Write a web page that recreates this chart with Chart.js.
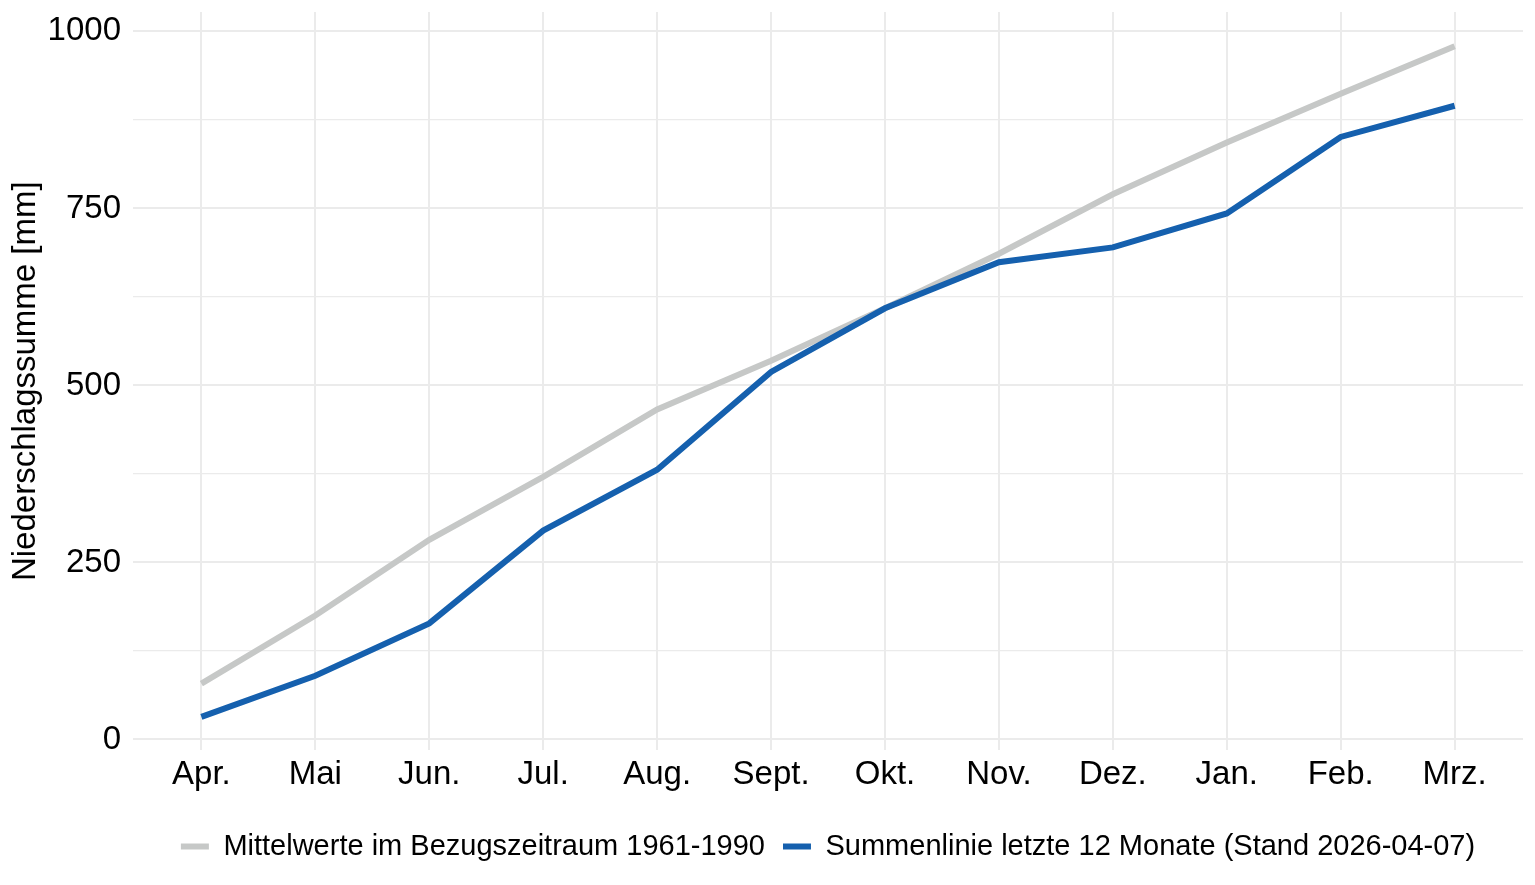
<!DOCTYPE html>
<html>
<head>
<meta charset="utf-8">
<script src="https://cdn.jsdelivr.net/npm/chart.js@4.4.1/dist/chart.umd.min.js"></script>
<style>
  html, body { margin: 0; padding: 0; background: #ffffff; }
  #wrap { width: 1535px; height: 885px; }
</style>
</head>
<body>
<div id="wrap"><canvas id="myChart"></canvas></div>
<script>
'use strict';

// chart data
let months = ['Apr.', 'Mai', 'Jun.', 'Jul.', 'Aug.', 'Sept.', 'Okt.', 'Nov.', 'Dez.', 'Jan.', 'Feb.', 'Mrz.'];
let meanValues = [79, 175, 282, 371, 466, 535, 609, 686, 770, 843, 912, 979];
let sumValues = [32, 90, 164, 295, 381, 519, 609, 674, 695, 743, 851, 895];
let yTicks = [0, 125, 250, 375, 500, 625, 750, 875, 1000];
let yLabels = [0, 250, 500, 750, 1000];

let meanLabel = 'Mittelwerte im Bezugszeitraum 1961-1990';
let sumLabel = 'Summenlinie letzte 12 Monate (Stand 2026-04-07)';

let ctx = document.getElementById('myChart');

// helper to pair the month index with the value
function toPoints(values) {
    let points = [];
    for (let i = 0; i < values.length; i++) {
        points.push({ x: i, y: values[i] });
    }
    return points;
}

let fontFamily = '"Liberation Sans", Arial, Helvetica, sans-serif';

let myChartObj = {
    type: 'line',
    data: {
        datasets: [{
            label: meanLabel,
            data: toPoints(meanValues),
            borderColor: '#c6c8c7',
            backgroundColor: '#c6c8c7',
            borderWidth: 6,
            pointRadius: 0,
            tension: 0,
            order: 1
        },
        {
            label: sumLabel,
            data: toPoints(sumValues),
            borderColor: '#1560ae',
            backgroundColor: '#1560ae',
            borderWidth: 6,
            pointRadius: 0,
            tension: 0,
            order: 0
        }]
    },
    options: {
        responsive: true,
        maintainAspectRatio: false,
        animation: false,
        layout: {
            padding: { left: 6, right: 12, top: 12, bottom: 14 }
        },
        plugins: {
            tooltip: { enabled: false },
            legend: {
                position: 'bottom',
                fullSize: false,
                labels: {
                    usePointStyle: true,
                    pointStyle: 'line',
                    pointStyleWidth: 28,
                    padding: 18,
                    color: '#000000',
                    font: { family: fontFamily, size: 29 },
                    sort: function (a, b) { return a.datasetIndex - b.datasetIndex; }
                }
            }
        },
        scales: {
            x: {
                type: 'linear',
                min: -0.6,
                max: 11.6,
                afterBuildTicks: function (scale) {
                    scale.ticks = months.map(function (m, i) { return { value: i }; });
                },
                afterFit: function (scale) {
                    scale.height += 14;
                },
                ticks: {
                    autoSkip: false,
                    maxRotation: 0,
                    padding: 5,
                    color: '#000000',
                    font: { family: fontFamily, size: 33 },
                    callback: function (value) { return months[value]; }
                },
                grid: {
                    color: '#ebebeb',
                    lineWidth: 2,
                    drawTicks: false
                },
                border: { display: false }
            },
            y: {
                type: 'linear',
                min: -15.4,
                max: 1027.4,
                afterBuildTicks: function (scale) {
                    scale.ticks = yTicks.map(function (v) { return { value: v }; });
                },
                afterFit: function (scale) {
                    scale.paddingTop = 0;
                    scale.paddingBottom = 0;
                    scale.width -= 10;
                },
                ticks: {
                    autoSkip: false,
                    padding: 12,
                    color: '#000000',
                    font: { family: fontFamily, size: 33 },
                    callback: function (value) {
                        return yLabels.indexOf(value) >= 0 ? String(value) : '';
                    }
                },
                grid: {
                    color: '#ebebeb',
                    lineWidth: function (c) {
                        return yLabels.indexOf(c.tick.value) >= 0 ? 2 : 1.2;
                    },
                    drawTicks: false
                },
                border: { display: false },
                title: {
                    display: true,
                    text: 'Niederschlagssumme [mm]',
                    color: '#000000',
                    padding: { top: 0, bottom: 0 },
                    font: { family: fontFamily, size: 33 }
                }
            }
        }
    }
};

new Chart(ctx, myChartObj);
</script>
</body>
</html>
